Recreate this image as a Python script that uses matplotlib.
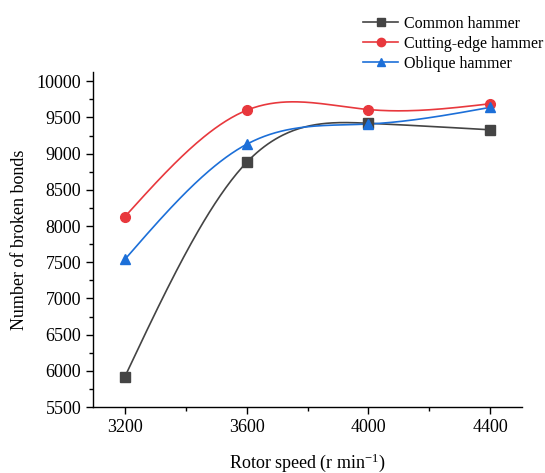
import numpy as np
import matplotlib
matplotlib.use("Agg")
import matplotlib.pyplot as plt
from matplotlib.ticker import MultipleLocator

speeds = [3200, 3600, 4000, 4400]
common = [5920, 8880, 9420, 9330]
cutting = [8130, 9600, 9610, 9690]
oblique = [7540, 9130, 9410, 9640]
labels = ["Common hammer", "Cutting-edge hammer", "Oblique hammer"]
colors = ["#444444", "#e8383d", "#1c6fd8"]
markers = ["s", "o", "^"]


def natural_spline(x, y, n=200):
    x = np.asarray(x, float)
    y = np.asarray(y, float)
    k = len(x)
    h = np.diff(x)
    A = np.zeros((k, k))
    b = np.zeros(k)
    A[0, 0] = 1
    A[-1, -1] = 1
    for i in range(1, k - 1):
        A[i, i - 1] = h[i - 1]
        A[i, i] = 2 * (h[i - 1] + h[i])
        A[i, i + 1] = h[i]
        b[i] = 3 * ((y[i + 1] - y[i]) / h[i] - (y[i] - y[i - 1]) / h[i - 1])
    c = np.linalg.solve(A, b)
    xs = np.linspace(x[0], x[-1], n)
    ys = np.empty_like(xs)
    for j, xv in enumerate(xs):
        i = min(np.searchsorted(x, xv, side="right") - 1, k - 2)
        dx = xv - x[i]
        bi = (y[i + 1] - y[i]) / h[i] - h[i] * (2 * c[i] + c[i + 1]) / 3
        di = (c[i + 1] - c[i]) / (3 * h[i])
        ys[j] = y[i] + bi * dx + c[i] * dx ** 2 + di * dx ** 3
    return xs, ys


plt.rcParams["font.family"] = ["Liberation Serif", "DejaVu Serif"]
plt.rcParams["mathtext.fontset"] = "stix"

fig = plt.figure(figsize=(5.45, 4.73), dpi=100)
ax = fig.add_axes([0.1706, 0.1395, 0.958 - 0.1706, 0.848 - 0.1395])

handles = []
for data, lab, col, mk in zip([common, cutting, oblique], labels, colors, markers):
    xs, ys = natural_spline(speeds, data)
    ax.plot(xs, ys, color=col, lw=1.2, zorder=2)
    ax.plot(speeds, data, ls="none", marker=mk, color=col, ms=7, zorder=3)
    h, = ax.plot([], [], color=col, lw=1.2, marker=mk, ms=6, label=lab)
    handles.append(h)

ax.set_xlim(3095, 4505)
ax.set_ylim(5500, 10130)
ax.set_xticks(speeds)
ax.xaxis.set_minor_locator(MultipleLocator(200))
ax.set_yticks(np.arange(5500, 10001, 500))
ax.yaxis.set_minor_locator(MultipleLocator(250))
ax.spines["top"].set_visible(False)
ax.spines["right"].set_visible(False)
for s in ["left", "bottom"]:
    ax.spines[s].set_linewidth(1.0)
ax.tick_params(which="major", direction="out", length=5, width=1, labelsize=13)
ax.tick_params(which="minor", direction="out", length=3, width=1)
ax.set_xlabel("Rotor speed (r min$^{\\mathregular{-1}}$)", fontsize=13, labelpad=11)
ax.set_ylabel("Number of broken bonds", fontsize=13, labelpad=6)

fig.legend(handles=handles, loc="upper right", bbox_to_anchor=(1.0, 0.97),
           frameon=False, fontsize=11.5, handlelength=2.2, handletextpad=0.35,
           labelspacing=0.25, borderaxespad=0.0, borderpad=0.1)

fig.savefig("out.png", dpi=100)
